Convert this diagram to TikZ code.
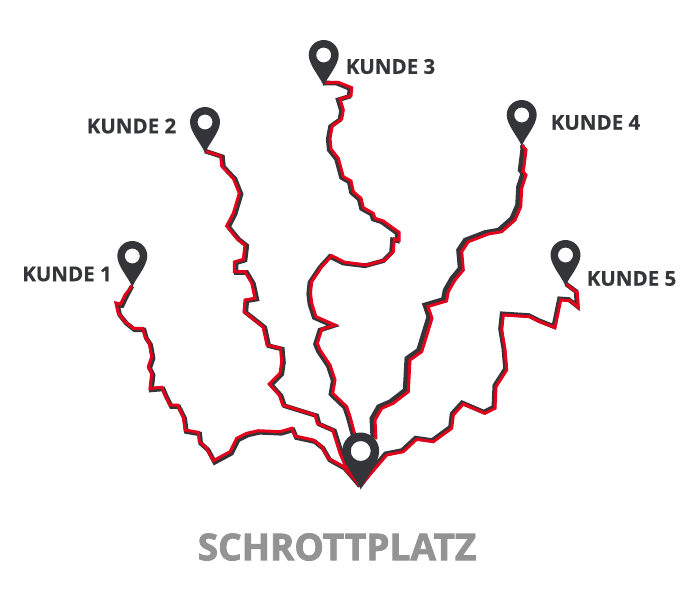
\documentclass[tikz,border=0pt]{standalone}
\usepackage{fontspec}
\setmainfont[BoldFeatures={FakeBold=0.4}]{Open Sans}
\newfontfamily\titlefont[BoldFeatures={FakeBold=2.2}]{Open Sans}
\definecolor{pindark}{HTML}{333538}
\definecolor{routered}{HTML}{E2001A}
\definecolor{titlegray}{HTML}{939393}
\tikzset{
  under/.style={draw=pindark,line width=4.6pt,line join=miter,miter limit=3},
  over/.style={draw=routered,line width=3pt,line join=miter,miter limit=3},
  kunde/.style={font=\bfseries\fontsize{20.5}{22}\selectfont,text=pindark,inner sep=0pt,anchor=center},
  titel/.style={font=\titlefont\bfseries\fontsize{37}{40}\selectfont,text=titlegray,inner sep=0pt,anchor=center}
}
% pin: centre, radius, hole radius, tip distance
\newcommand{\pinmark}[5]{%
  \fill[pindark,even odd rule,shift={(#1,#2)}]
    (0,#5) .. controls (-#3*0.25,#5*0.7) and (-#3*1.0,#5*0.32) .. (-#3,0)
    arc[start angle=180,end angle=360,radius=#3]
    .. controls (#3*1.0,#5*0.32) and (#3*0.25,#5*0.7) .. (0,#5) -- cycle
    (#4,0) arc[start angle=0,end angle=360,radius=#4];}
\newcommand{\routepair}[3]{%
  \draw[under,shift={(#1,#2)}] #3;
  \draw[over] #3;}
\begin{document}
\begin{tikzpicture}[x=1pt,y=-1pt]
\useasboundingbox (0,0) rectangle (700,600);
\coordinate (tipA) at (132,286);
\coordinate (tipB) at (205,151);
\coordinate (tipC) at (324,83);
\coordinate (tipD) at (522,145);
\coordinate (tipE) at (566,284);
\coordinate (hub) at (360,486);

\routepair{1.4}{1.6}{(tipA) -- (125,295) -- (120.7,304) -- (116,303) -- (118.3,313.3) -- (125,321.7) -- (133.3,328.3) -- (142.7,328.3) -- (145,336.7) -- (149.3,343.3) -- (151.7,356.7) -- (148.3,366.7) -- (151.7,373.3) -- (150,388.3) -- (161.7,387.3) -- (165,395) -- (170,405) -- (177.3,405) -- (183.3,416.7) -- (185,430) -- (198.3,432.3) -- (199.3,441.7) -- (206.7,448.3) -- (213.3,460.7) -- (230,451.7) -- (236.7,438.3) -- (246.7,433.3) -- (258.3,430.7) -- (280,431.7) -- (291.7,428.3) -- (295,436) -- (313.3,440) -- (321.7,446.7) -- (328.3,458.3) -- (343.3,466.7) -- (hub)}

\routepair{1.8}{0.8}{(tipB) -- (220.7,156) -- (221.7,166) -- (233.3,178.3) -- (239.3,193.3) -- (233.3,213.3) -- (226.7,226) -- (236.7,238.3) -- (245,245) -- (243.3,259.3) -- (234.3,262) -- (234.3,271.7) -- (245,271.7) -- (251.7,283) -- (255,298.3) -- (245,300) -- (244,311.7) -- (263,326.7) -- (267,345) -- (280.5,348.3) -- (281.7,361.7) -- (280,373.3) -- (269.3,384) -- (279.3,395) -- (282.7,405) -- (315,415) -- (317.3,423.3) -- (332.7,430) -- (340,453.3) -- (345,465) -- (hub)}

\routepair{-1.8}{0.8}{(tipC) -- (338.3,82.3) -- (351.7,87.7) -- (351,95.7) -- (340,99) -- (343.3,110) -- (341.7,119) -- (332.3,125.7) -- (330,138.3) -- (331,149) -- (338.3,158.3) -- (343.3,176.7) -- (351,181) -- (353.3,191.7) -- (361,198.3) -- (363.3,207.7) -- (373.3,213.3) -- (375,218.3) -- (383.3,221) -- (399,232.3) -- (399,240) -- (394.3,239) -- (393.3,251.7) -- (385,260) -- (366.7,265) -- (345,262.3) -- (331.7,255.7) -- (321.7,266.7) -- (311.7,281.7) -- (310.5,293) -- (311.7,303.3) -- (316,316.7) -- (335,325) -- (321.7,329.3) -- (317.3,343.3) -- (320,350) -- (330,365) -- (335,380) -- (332.7,393.3) -- (346.7,406.7) -- (350,416.7) -- (355,435)}

\routepair{-3.2}{-1.6}{(tipD) -- (526,150) -- (523.3,171.7) -- (526,175) -- (521.7,188.3) -- (520.7,206.7) -- (515,220) -- (501.7,231.7) -- (488.3,234) -- (468.3,241.7) -- (461.7,251.7) -- (463.3,270) -- (455,280) -- (448.3,291.7) -- (446.5,301) -- (428,306.5) -- (432,318.3) -- (421.7,351.7) -- (410,360) -- (408.3,391.7) -- (393.3,403.3) -- (381.7,408.3) -- (375,420) -- (376,439.3)}

\routepair{-1.2}{-1.2}{(tipE) -- (577.3,292.7) -- (578.3,307.3) -- (570,300.7) -- (560.7,300) -- (555,327.7) -- (540,321.7) -- (530,316.7) -- (503.3,315) -- (501.7,330) -- (505,350) -- (506.7,370) -- (496,386.7) -- (495,408.3) -- (485,413.3) -- (463.3,404) -- (453.3,415) -- (451.7,428.3) -- (433.3,441.7) -- (416.7,439.3) -- (403.3,451.7) -- (386.7,455) -- (376.7,466.7) -- (hub)}

\pinmark{132.3}{256}{15}{7.5}{31}
\pinmark{205}{122}{15}{7.5}{31}
\pinmark{323.7}{55}{15}{7.5}{31}
\pinmark{521.7}{115}{15}{7.5}{31}
\pinmark{565.5}{255}{15}{7.5}{31}
\pinmark{360.7}{451}{18.5}{10}{38.5}

\node[kunde] (k1) at (67,274) {KUNDE 1};
\node[kunde] (k2) at (131.5,126) {KUNDE 2};
\node[kunde] (k3) at (390.5,66.5) {KUNDE 3};
\node[kunde] (k4) at (595.5,122.5) {KUNDE 4};
\node[kunde] (k5) at (631.5,278.5) {KUNDE 5};
\node[titel] (t) at (337,547) {SCHROTTPLATZ};
\end{tikzpicture}
\end{document}
